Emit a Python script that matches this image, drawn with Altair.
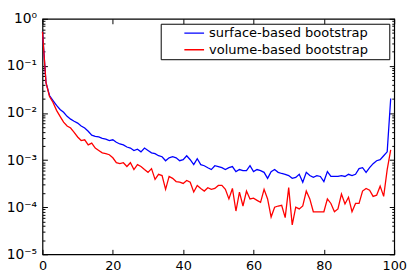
import altair as alt
import pandas as pd

x_vals = list(range(100))
series_names = ["surface-based bootstrap", "volume-based bootstrap"]
series_colors = ["#0000ff", "#ff0000"]

surface = [0.53, 0.044, 0.0235, 0.0184, 0.0145, 0.0119, 0.0104, 0.0085, 0.0074, 0.0067,
           0.0061, 0.0053, 0.0048, 0.0041, 0.0034, 0.0032, 0.0031, 0.0029, 0.0028, 0.0026,
           0.0027, 0.0024, 0.0022, 0.0021, 0.0019, 0.0018, 0.0016, 0.0017, 0.0015, 0.0018,
           0.0016, 0.00143, 0.00137, 0.00124, 0.00118, 0.00097, 0.00112, 0.00118, 0.00112, 0.00097,
           0.00102, 0.00124, 0.00102, 0.0008, 0.00107, 0.0008, 0.00076, 0.00069, 0.00063, 0.00076,
           0.00073, 0.00069, 0.00063, 0.00069, 0.00073, 0.00057, 0.00063, 0.0006, 0.0006, 0.00076,
           0.00057, 0.00063, 0.0006, 0.00055, 0.00041, 0.00057, 0.00063, 0.00055, 0.00052, 0.0005,
           0.00047, 0.00041, 0.00043, 0.0005, 0.00034, 0.00055, 0.00047, 0.00043, 0.00047, 0.00045,
           0.00035, 0.00057, 0.00045, 0.00045, 0.00045, 0.00047, 0.00045, 0.0005, 0.00047, 0.0005,
           0.00066, 0.00069, 0.00055, 0.00069, 0.00084, 0.00097, 0.00102, 0.00124, 0.0015, 0.0203]

volume = [0.53, 0.044, 0.0223, 0.0167, 0.0114, 0.0085, 0.0064, 0.0053, 0.0048, 0.0039,
          0.0031, 0.0026, 0.0027, 0.0021, 0.0023, 0.0018, 0.0016, 0.00143, 0.00137, 0.0013,
          0.00112, 0.00088, 0.00084, 0.00088, 0.00073, 0.00088, 0.00063, 0.0008, 0.00073, 0.00063,
          0.00055, 0.00066, 0.00039, 0.0005, 0.00047, 0.00024, 0.00045, 0.00041, 0.00035, 0.00034,
          0.00032, 0.00037, 0.00034, 0.00021, 0.00029, 0.00025, 0.00022, 0.00026, 0.00024, 0.00025,
          0.00029, 0.00029, 0.00024, 0.00015, 0.00025, 0.000083, 0.00021, 0.000106, 0.00022, 0.00015,
          0.000155, 0.00014, 0.000127, 0.00024, 0.00015, 0.000062, 0.0001, 0.000106, 0.00011, 0.00006,
          0.00026, 0.000042, 0.0001, 0.000092, 0.000106, 0.00022, 0.00015, 0.00008, 0.00008, 0.00008,
          0.00008, 0.00015, 0.00012, 0.00008, 0.000092, 0.00019, 0.000117, 0.000163, 0.00008, 0.00012,
          0.00012, 0.00022, 0.00025, 0.00023, 0.00017, 0.00018, 0.00028, 0.00017, 0.00063, 0.00165]

x_ticks = [0, 20, 40, 60, 80, 100]
y_ticks = [1e-5, 1e-4, 1e-3, 1e-2, 1e-1, 1.0]
y_minor = [m * d for d in [1e-5, 1e-4, 1e-3, 1e-2, 1e-1] for m in range(2, 10)]

df = pd.DataFrame({
    "x": x_vals * 2,
    "value": surface + volume,
    "series": [series_names[0]] * len(x_vals) + [series_names[1]] * len(x_vals),
})

FONT = "DejaVu Sans"
W, H = 357, 239
xscale = alt.Scale(domain=[0, 100], nice=False, zero=False)
yscale = alt.Scale(type="log", domain=[1e-5, 1.0], nice=False)

y_label_expr = ("datum.value >= 0.99 ? '10\u2070' : datum.value >= 0.099 ? '10\u207b\u00b9' : "
                "datum.value >= 0.0099 ? '10\u207b\u00b2' : datum.value >= 0.00099 ? '10\u207b\u00b3' : "
                "datum.value >= 0.000099 ? '10\u207b\u2074' : '10\u207b\u2075'")

main = alt.Chart(df).mark_line(strokeWidth=1.3).encode(
    x=alt.X("x:Q", scale=xscale, axis=alt.Axis(
        orient="bottom", values=x_ticks, tickSize=0, domain=False, grid=False,
        labelPadding=5, labelFontSize=13, labelFont=FONT, title=None, labelFlush=False,
        labelOverlap=False, labelColor="black")),
    y=alt.Y("value:Q", scale=yscale, axis=alt.Axis(
        orient="left", values=y_ticks, tickSize=0, domain=False, grid=False,
        labelExpr=y_label_expr, labelFontSize=14, labelFont=FONT, labelPadding=6, title=None,
        labelOverlap=False, labelFlush=False, labelColor="black")),
    color=alt.Color("series:N", scale=alt.Scale(domain=series_names, range=series_colors),
                    legend=alt.Legend(
                        title=None, orient="top-right", offset=5,
                        strokeColor="black", fillColor="white", padding=2,
                        symbolType="stroke", symbolSize=400, symbolStrokeWidth=1.5,
                        symbolOffset=21, labelFontSize=13.2, labelFont=FONT, labelColor="black",
                        labelLimit=400, clipHeight=15, rowPadding=2, cornerRadius=0,
                        labelExpr="datum.label + '\u2800\u2800'")),
)


def tick_axis(orient, offset, values, size):
    return alt.Axis(orient=orient, offset=offset, values=values, tickSize=size,
                    labels=False, domain=False, grid=False, title=None,
                    tickColor="black", tickWidth=1)


t1 = alt.Chart(df).mark_line(opacity=0).encode(
    x=alt.X("x:Q", scale=xscale, axis=tick_axis("top", -H, x_ticks, 5)),
    y=alt.Y("value:Q", scale=yscale, axis=tick_axis("right", -W, y_ticks, 5)),
    detail="series:N",
)
t2 = alt.Chart(df).mark_line(opacity=0).encode(
    x=alt.X("x:Q", scale=xscale, axis=tick_axis("bottom", -H, x_ticks, 5)),
    y=alt.Y("value:Q", scale=yscale, axis=tick_axis("left", -W, y_ticks, 5)),
    detail="series:N",
)
t3 = alt.Chart(df).mark_line(opacity=0).encode(
    x=alt.X("x:Q", scale=xscale, axis=None),
    y=alt.Y("value:Q", scale=yscale, axis=tick_axis("right", -W, y_minor, 2.5)),
    detail="series:N",
)
t4 = alt.Chart(df).mark_line(opacity=0).encode(
    x=alt.X("x:Q", scale=xscale, axis=None),
    y=alt.Y("value:Q", scale=yscale, axis=tick_axis("left", -W, y_minor, 2.5)),
    detail="series:N",
)

chart = alt.layer(main, t1, t2, t3, t4).resolve_axis(
    x="independent", y="independent"
).properties(
    width=W, height=H,
    autosize=alt.AutoSizeParams(type="none"),
    padding={"left": 35, "top": 9, "right": 15, "bottom": 18},
).configure(
    font=FONT,
).configure_view(
    stroke="black", strokeWidth=1.2,
)

chart.save("out.html", embed_options={"renderer": "svg", "actions": False})
